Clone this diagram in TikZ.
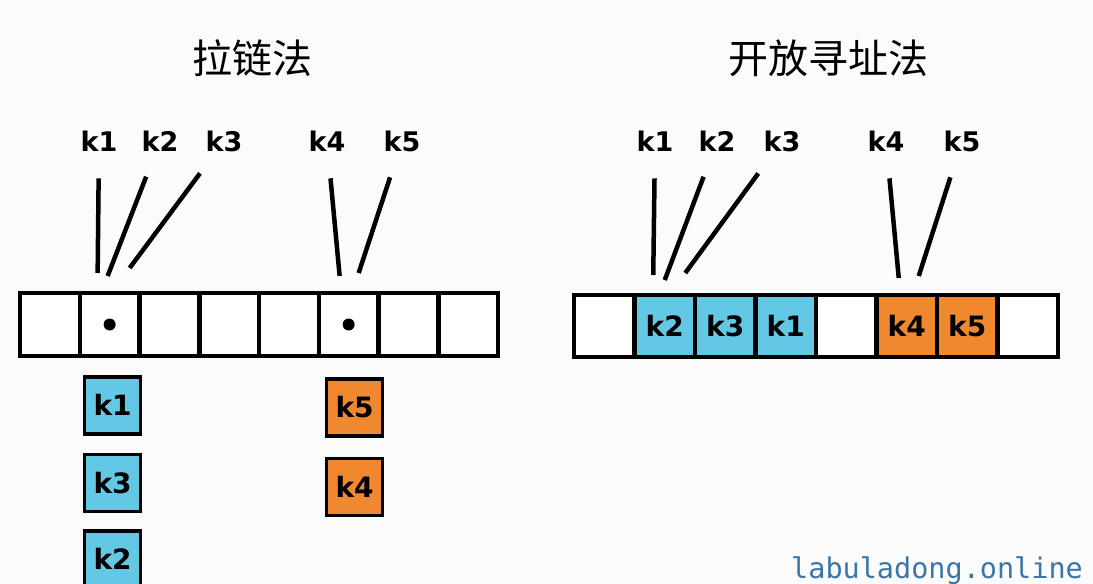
\documentclass[tikz,border=0pt]{standalone}
\usepackage{fontspec}
\setmainfont{DejaVu Sans}
\newfontfamily\cjkfont{Noto Sans CJK SC}
\newfontfamily\sitefont{DejaVu Sans Mono}
\usepackage{xcolor}
\definecolor{KeyBlue}{RGB}{98,200,228}
\definecolor{KeyOrange}{RGB}{240,136,48}
\definecolor{SiteBlue}{RGB}{58,118,168}
\definecolor{PaperWhite}{RGB}{251,251,251}
\usetikzlibrary{positioning,calc}

\begin{document}
\begin{tikzpicture}[x=1pt, y=1pt,
    cell/.style={rectangle, draw=black, fill=white, line width=4.5pt, outer sep=0pt,
                 inner sep=0pt, minimum width=59.75pt, minimum height=63pt,
                 font=\bfseries\fontsize{28}{32}\selectfont},
    rc/.style={cell, minimum width=60.5pt, minimum height=62pt},
    bk/.style={fill=KeyBlue},
    ok/.style={fill=KeyOrange},
    box/.style={rectangle, draw=black, line width=3.5pt, inner sep=0pt, minimum width=56pt,
                minimum height=57pt, font=\bfseries\fontsize{28}{32}\selectfont},
    lab/.style={inner sep=0pt, font=\bfseries\fontsize{27}{32}\selectfont},
    ttl/.style={inner sep=0pt, font=\cjkfont\fontsize{40}{46}\selectfont},
    ln/.style={line width=4.5pt, shorten <=27pt}
]
    \fill[PaperWhite] (0,0) rectangle (1093,-584);
    \useasboundingbox (0,0) rectangle (1093,-584);

    % chaining
    \node[ttl] (tl) at (252,-58) {拉链法};
    \node[cell] (l1) at (49.9,-324.5) {};
    \node[cell, right=0pt of l1] (l2) {};
    \node[cell, right=0pt of l2] (l3) {};
    \node[cell, right=0pt of l3] (l4) {};
    \node[cell, right=0pt of l4] (l5) {};
    \node[cell, right=0pt of l5] (l6) {};
    \node[cell, right=0pt of l6] (l7) {};
    \node[cell, right=0pt of l7] (l8) {};
    \fill (l2) circle (6pt);
    \fill (l6) circle (6pt);

    \node[lab] (a1) at (99,-141) {k1};
    \node[lab] (a2) at (160,-141) {k2};
    \node[lab] (a3) at (224,-141) {k3};
    \node[lab] (a4) at (327,-141) {k4};
    \node[lab] (a5) at (402,-141) {k5};
    \coordinate (e1) at ($(l2.north)+(-12,20)$);
    \coordinate (e2) at ($(l2.north)+(-2,17)$);
    \coordinate (e3) at ($(l2.north)+(20,25)$);
    \coordinate (e4) at ($(l6.north)+(-9,17)$);
    \coordinate (e5) at ($(l6.north)+(10,20)$);
    \draw[ln] (a1) -- (e1);
    \draw[ln] (a2) -- (e2);
    \draw[ln] (a3) -- (e3);
    \draw[ln] (a4) -- (e4);
    \draw[ln] (a5) -- (e5);

    \node[box, bk, below=19pt of l2, xshift=3pt] (c1) {k1};
    \node[box, bk, below=17pt of c1] (c3) {k3};
    \node[box, bk, below=16pt of c3] (c2) {k2};
    \node[box, ok, below=21pt of l6, xshift=6pt] (c5) {k5};
    \node[box, ok, below=19pt of c5] (c4) {k4};

    % open addressing
    \node[ttl] (tr) at (828,-58) {开放寻址法};
    \node[rc] (r1) at (604.25,-326) {};
    \node[rc, bk, right=0pt of r1] (r2) {k2};
    \node[rc, bk, right=0pt of r2] (r3) {k3};
    \node[rc, bk, right=0pt of r3] (r4) {k1};
    \node[rc, right=0pt of r4] (r5) {};
    \node[rc, ok, right=0pt of r5] (r6) {k4};
    \node[rc, ok, right=0pt of r6] (r7) {k5};
    \node[rc, right=0pt of r7] (r8) {};

    \node[lab] (b1) at (655,-141) {k1};
    \node[lab] (b2) at (717,-141) {k2};
    \node[lab] (b3) at (782,-141) {k3};
    \node[lab] (b4) at (886,-141) {k4};
    \node[lab] (b5) at (962,-141) {k5};
    \coordinate (f1) at ($(r2.north)+(-11.5,20)$);
    \coordinate (f2) at ($(r2.north)+(0,15)$);
    \coordinate (f3) at ($(r2.north)+(20.5,22)$);
    \coordinate (f4) at ($(r6.north)+(-8,17)$);
    \coordinate (f5) at ($(r6.north)+(12,19)$);
    \draw[ln] (b1) -- (f1);
    \draw[ln] (b2) -- (f2);
    \draw[ln] (b3) -- (f3);
    \draw[ln] (b4) -- (f4);
    \draw[ln] (b5) -- (f5);

    \node[anchor=base west, inner sep=0pt, text=SiteBlue,
          font=\sitefont\fontsize{28.5}{34}\selectfont] (site) at (791,-578) {labuladong.online};
\end{tikzpicture}
\end{document}
